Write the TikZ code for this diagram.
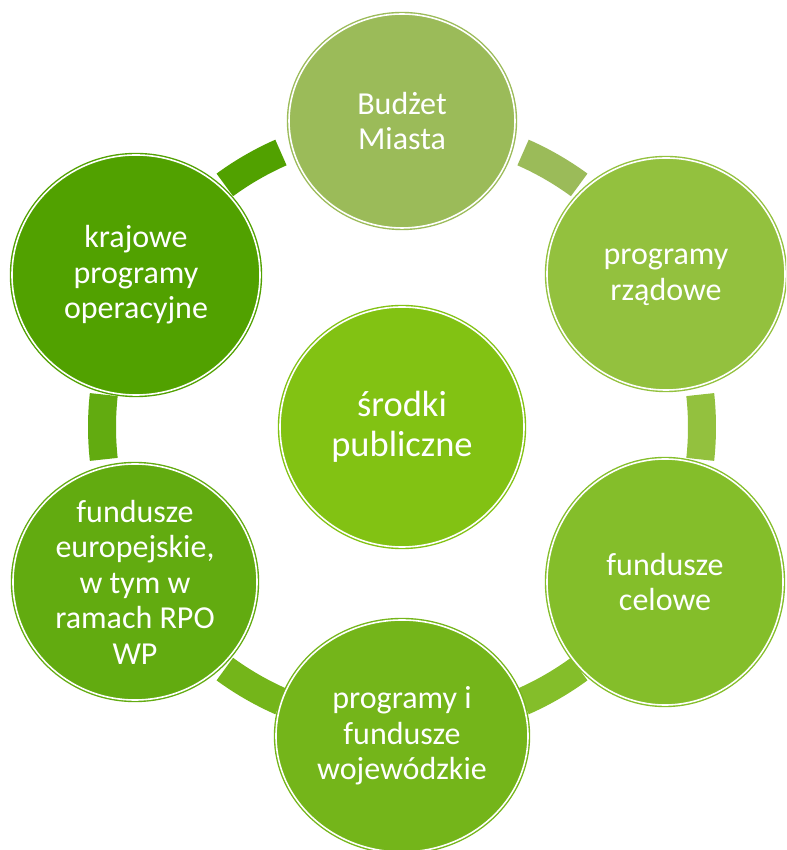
\documentclass[tikz,border=0pt]{standalone}
\usepackage{fontspec}
\setmainfont{Carlito}
\usetikzlibrary{shapes.geometric}
\definecolor{cTop}{HTML}{9BBB59}
\definecolor{cTR}{HTML}{93C13E}
\definecolor{cBR}{HTML}{84BE2A}
\definecolor{cBot}{HTML}{74B51A}
\definecolor{cBL}{HTML}{62AB10}
\definecolor{cTL}{HTML}{51A100}
\definecolor{cMid}{HTML}{82C213}
\tikzset{
  bubble/.style={ellipse, inner sep=0pt, draw=#1, fill=#1, double=white,
    double distance=1.6pt, line width=1.4pt, text=white, align=center,
    font=\fontsize{32}{35.5}\selectfont},
}
\begin{document}
\begin{tikzpicture}[x=1pt,y=1pt]
\useasboundingbox (0,0) rectangle (786,850);
\clip (0,0) rectangle (786,850);
\coordinate (ring) at (402,423);
% ring segments
\foreach \a/\c in {60/cTop, 0/cTR, -60/cBR, -120/cBot, 180/cBL, 120/cTL}{
  \pgfmathsetmacro\lo{\a-6.2}
  \pgfmathsetmacro\hi{\a+6.2}
  \fill[\c, shift={(ring)}] (\lo:314) arc[start angle=\lo, end angle=\hi, radius=314]
     -- (\hi:286) arc[start angle=\hi, end angle=\lo, radius=286] -- cycle;
}
% circles
\node[bubble=cTop, minimum width=226pt, minimum height=214pt] (top) at (402,729) {Budżet\\Miasta};
\node[bubble=cTR, minimum width=238pt, minimum height=232pt] (tr) at (666,576) {\vphantom{d}programy\\rządowe};
\node[bubble=cBR, minimum width=236pt, minimum height=246pt] (br) at (665,268) {fundusze\\celowe};
\node[bubble=cBot, minimum width=252pt, minimum height=232pt] (bot) at (402,114) {\vphantom{d}programy i\\fundusze\\wojewódzkie};
\node[bubble=cBL, minimum width=244pt, minimum height=236pt] (bl) at (135,268) {fundusze\\europejskie,\\w tym w\\ramach RPO\\WP};
\node[bubble=cTL, minimum width=248pt, minimum height=240pt] (tl) at (136,575) {krajowe\\programy\\operacyjne};
\node[bubble=cMid, minimum width=244pt, minimum height=240pt, font=\fontsize{36.5}{40}\selectfont] (mid) at (402,423) {środki\\publiczne};
\end{tikzpicture}
\end{document}
